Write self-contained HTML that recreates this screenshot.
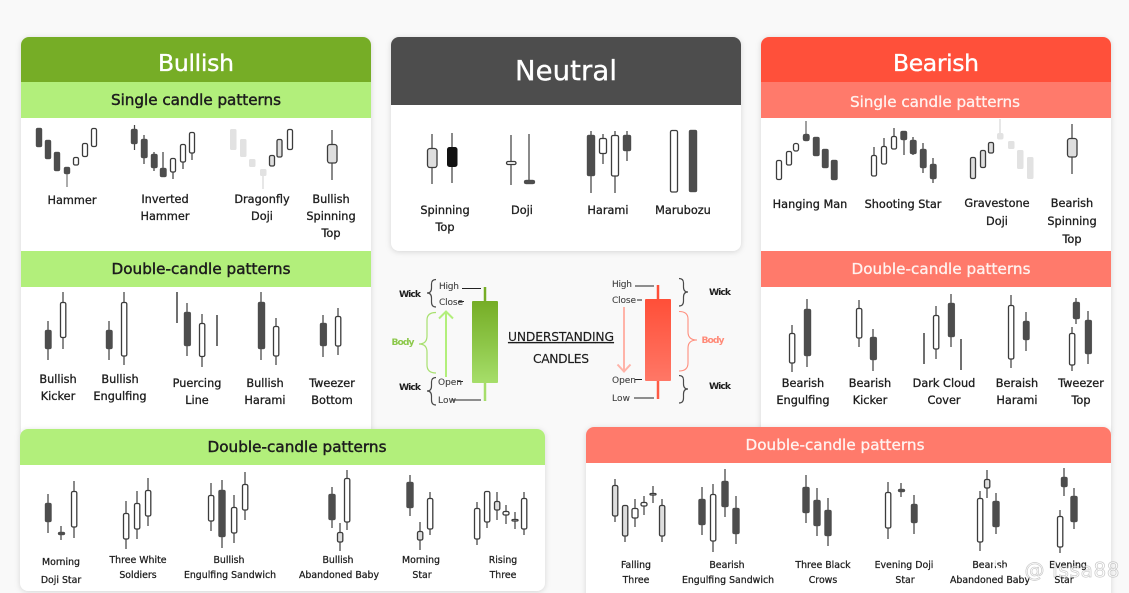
<!DOCTYPE html>
<html><head><meta charset="utf-8"><style>
html,body{margin:0;padding:0;background:#f9f9f9;width:1129px;height:593px;overflow:hidden}
svg{display:block}
text{font-family:"DejaVu Sans","Liberation Sans",sans-serif;fill:#1d1d1d;text-anchor:middle;font-size:11.3px;stroke:#1d1d1d;stroke-width:.3}
.s{font-size:9.4px;stroke-width:.25}
.h{font-size:23.5px;fill:#fff;stroke:#fff;stroke-width:.35}
.n{font-size:27.5px}
.t{font-size:15.2px;stroke-width:.45}
.tw{fill:#fff2ef;stroke:#fff2ef;stroke-width:.3}
.c{font-size:9px;fill:#444;stroke:#444;stroke-width:.12;text-anchor:start}
.b{font-size:9.2px;font-weight:bold;stroke:none}
rect{rx:1.5px}
.card{fill:#fff;rx:0;filter:drop-shadow(0 1px 3px rgba(0,0,0,.14))}
.d{fill:#4d4d4d;stroke:#4d4d4d;stroke-width:.4}
.k{fill:#111}
.w{fill:#fff;stroke:#3c3c3c;stroke-width:1.3}
.g{fill:#dedede;stroke:#3c3c3c;stroke-width:1.3}
.l{fill:#e2e2e2}
.wk{stroke:#444;stroke-width:1.25;fill:none}
.bl{stroke:#111;stroke-width:1.2;fill:none}
.br{fill:none;stroke:#4a4a4a;stroke-width:1.2}
</style></head><body>
<svg width="1129" height="593" viewBox="0 0 1129 593" xmlns="http://www.w3.org/2000/svg">
<defs>
<linearGradient id="gg" x1="0" y1="0" x2="0" y2="1"><stop offset="0" stop-color="#76ad26"/><stop offset=".5" stop-color="#8cc546"/><stop offset="1" stop-color="#a6de6a"/></linearGradient>
<linearGradient id="rg" x1="0" y1="0" x2="0" y2="1"><stop offset="0" stop-color="#ff4f38"/><stop offset="1" stop-color="#ff7766"/></linearGradient>
</defs>

<!-- Bullish -->
<path class="card" d="M21 45a8 8 0 0 1 8-8H363a8 8 0 0 1 8 8V432H21Z" style="fill:#fff"/>
<path d="M21 82V45a8 8 0 0 1 8-8H363a8 8 0 0 1 8 8V82Z" fill="#76ad26"/>
<rect x="21" y="82" width="350" height="36" fill="#b2ef7b" style="rx:0"/>
<rect x="21" y="251" width="350" height="36" fill="#b2ef7b" style="rx:0"/>
<text class="h" x="196" y="71" textLength="76">Bullish</text>
<text class="t" x="196" y="105" textLength="170">Single candle patterns</text>
<text class="t" x="201" y="274" textLength="179">Double-candle patterns</text>

<path class="wk" d="M67 174V187" style="stroke:#888;stroke-width:1.4"/>
<rect class="d" x="36" y="128" width="6" height="19"/><rect class="d" x="45" y="140" width="6" height="19"/><rect class="d" x="54" y="152" width="6" height="19"/><rect class="d" x="64" y="167" width="6" height="7"/>
<rect class="w" x="73.500" y="157.500" width="5" height="7.500"/><rect class="w" x="82.500" y="143.500" width="5" height="13"/><rect class="w" x="91.500" y="128.500" width="5" height="18"/>

<path class="wk" d="M134.500 125V150M144 135V164M154 152V171M163 152V177M173 158V179M183 144V169M192 132V160"/>
<rect class="d" x="131" y="129" width="6.500" height="15"/><rect class="d" x="141" y="139" width="6.500" height="19"/><rect class="d" x="151" y="154" width="6.500" height="14"/><rect class="d" x="160" y="168" width="6.500" height="9"/>
<rect class="w" x="170.500" y="158.500" width="5" height="13.500"/><rect class="w" x="180.500" y="144.500" width="5" height="17.500"/><rect class="w" x="189.500" y="132.500" width="5" height="20.500"/>

<path d="M263 176V189" stroke="#ddd" stroke-width="1.4"/>
<rect class="l" x="230" y="129" width="6.500" height="21"/><rect class="l" x="240" y="139" width="6.500" height="18"/><rect class="l" x="249" y="159" width="6.500" height="8"/><rect class="l" x="260" y="169" width="6.500" height="7"/>
<rect class="g" x="269.500" y="155.500" width="5" height="10.500"/><rect class="g" x="277" y="139.500" width="5" height="17.500"/><rect class="w" x="287.500" y="129.500" width="5" height="20"/>

<path class="wk" d="M332 130V180"/><rect class="g" x="327.500" y="144.500" width="9.500" height="18.500" style="rx:2.500px"/>

<text x="72" y="204">Hammer</text>
<text x="165" y="203">Inverted</text><text x="165" y="220">Hammer</text>
<text x="262" y="203">Dragonfly</text><text x="262" y="220">Doji</text>
<text x="331" y="203">Bullish</text><text x="331" y="220">Spinning</text><text x="331" y="237">Top</text>

<path class="wk" d="M48 321V360M63 292V349M109 321V360M124 292V365M187 303V356M202 314V367M261 292V360M276 318V365M323 315V357M338 308V355"/>
<path class="bl" d="M177 292V323M217 315V346"/>
<rect class="d" x="45" y="330" width="6.500" height="19"/><rect class="w" x="60.500" y="302.500" width="5.300" height="35"/>
<rect class="d" x="106" y="330" width="6.500" height="19"/><rect class="w" x="121.500" y="302.500" width="5.300" height="53.500"/>
<rect class="d" x="184" y="312" width="6.800" height="34"/><rect class="w" x="199.500" y="323.500" width="5.300" height="33"/>
<rect class="d" x="258" y="302" width="7" height="47"/><rect class="w" x="273.500" y="326.500" width="5.300" height="29.500"/>
<rect class="d" x="320" y="323" width="6.800" height="23"/><rect class="w" x="335.500" y="316.500" width="5.300" height="29.500"/>

<text x="58" y="383">Bullish</text><text x="58" y="400">Kicker</text>
<text x="120" y="383">Bullish</text><text x="120" y="400">Engulfing</text>
<text x="197" y="387">Puercing</text><text x="197" y="404">Line</text>
<text x="265" y="387">Bullish</text><text x="265" y="404">Harami</text>
<text x="332" y="387">Tweezer</text><text x="332" y="404">Bottom</text>

<!-- Neutral -->
<path class="card" d="M391 45a8 8 0 0 1 8-8H733a8 8 0 0 1 8 8V243a8 8 0 0 1-8 8H399a8 8 0 0 1-8-8Z" style="fill:#fff"/>
<path d="M391 105V45a8 8 0 0 1 8-8H733a8 8 0 0 1 8 8V105Z" fill="#4d4d4d"/>
<text class="h n" x="566" y="80" textLength="102">Neutral</text>

<path class="wk" d="M432 134V184M452 133V183M511 135V185M529 134V182M591 131V193M603 134V164M615 131V193M627 131V161"/>
<rect class="g" x="427.500" y="148.500" width="9.500" height="19" style="rx:2.500px"/><rect class="k" x="447" y="147" width="10.500" height="20" style="rx:2.500px"/>
<rect class="w" x="506.500" y="161.500" width="9.500" height="3" style="rx:1.500px"/><rect class="d" x="524" y="180" width="11" height="4" style="rx:2px"/>
<rect class="d" x="587" y="135" width="8" height="41"/><rect class="w" x="599.500" y="138.500" width="7" height="15"/><rect class="w" x="611.500" y="135.500" width="7" height="40.500"/><rect class="d" x="623" y="135" width="8" height="16"/>
<rect class="w" x="670.500" y="130.500" width="7" height="61.500"/><rect class="d" x="689" y="130" width="8" height="62"/>
<text x="445" y="214">Spinning</text><text x="445" y="231">Top</text>
<text x="522" y="214">Doji</text><text x="608" y="214">Harami</text><text x="683" y="214">Marubozu</text>

<!-- Understanding candles -->
<path d="M485 287V301" stroke="#76ad26" stroke-width="2.500"/><path d="M485 383V401" stroke="#a6de6a" stroke-width="2.500"/>
<rect x="472" y="301" width="26" height="82" fill="url(#gg)" style="rx:1px"/>
<path d="M658 285V299" stroke="#ff4f38" stroke-width="2.500"/><path d="M658 381V399" stroke="#ff5a44" stroke-width="2.500"/>
<rect x="645" y="299" width="26" height="82" fill="url(#rg)" style="rx:1px"/>
<g stroke="#222" stroke-width="1" fill="none"><path d="M462 288.500H481M458 301.500H464M458 381.500H463M452 400H481M635 286H654M637 300H642M635 379.500H642M634 398H654"/></g>
<text class="c" x="439" y="289" textLength="20">High</text><text class="c" x="439" y="305" textLength="24">Close</text><text class="c" x="438" y="385" textLength="24">Open</text><text class="c" x="438" y="403" textLength="18">Low</text>
<text class="c" x="612" y="287" textLength="20">High</text><text class="c" x="612" y="303" textLength="24">Close</text><text class="c" x="612" y="383" textLength="24">Open</text><text class="c" x="612" y="401" textLength="18">Low</text>
<text class="b" x="410" y="297" textLength="22">Wick</text><text class="b" x="410" y="390" textLength="22">Wick</text>
<text class="b" x="720" y="295" textLength="22">Wick</text><text class="b" x="720" y="389" textLength="22">Wick</text>
<text class="b" x="403" y="345" style="fill:#8cc84b" textLength="23">Body</text><text class="b" x="713" y="343" style="fill:#ff8a78" textLength="23">Body</text>
<path class="br" d="M436 279.500Q431.500 279.500 431.500 284V288Q431.500 293 427 293Q431.500 293 431.500 298V302Q431.500 307 436 307"/>
<path class="br" d="M436 377.500Q431.500 377.500 431.500 382V386Q431.500 391 427 391Q431.500 391 431.500 396V400Q431.500 405 436 405"/>
<path class="br" d="M679 278.500Q683.500 278.500 683.500 283V287Q683.500 292 688 292Q683.500 292 683.500 297V301Q683.500 306 679 306"/>
<path class="br" d="M679 375.500Q683.500 375.500 683.500 380V384Q683.500 389 688 389Q683.500 389 683.500 394V398Q683.500 403 679 403"/>
<path d="M436 312.500Q427 312.500 427 320V336Q427 344 419 344Q427 344 427 352V365Q427 373 436 373" fill="none" stroke="#a8e070" stroke-width="1.200"/>
<path d="M679 311.500Q688 311.500 688 319V332Q688 340 697 340Q688 340 688 348V363Q688 371 679 371" fill="none" stroke="#ff8f7e" stroke-width="1.100"/>
<path d="M446 377V312M439 318.500L446 311.500L453 318.500" fill="none" stroke="#b2ef7b" stroke-width="2"/>
<path d="M624 307V371M617.500 364.500L624 371.500L630.500 364.500" fill="none" stroke="#ffb3a8" stroke-width="2"/>
<text x="561" y="341" style="font-size:12.300px;text-decoration:underline;stroke-width:.15" textLength="106">UNDERSTANDING</text>
<text x="561" y="363" style="font-size:12.300px;stroke-width:.15" textLength="56">CANDLES</text>

<!-- Bearish -->
<path class="card" d="M761 45a8 8 0 0 1 8-8H1103a8 8 0 0 1 8 8V432H761Z" style="fill:#fff"/>
<path d="M761 82V45a8 8 0 0 1 8-8H1103a8 8 0 0 1 8 8V82Z" fill="#ff503a"/>
<rect x="761" y="82" width="350" height="36" fill="#ff7a6b" style="rx:0"/>
<rect x="761" y="251" width="350" height="36" fill="#ff7a6b" style="rx:0"/>
<text class="h" x="936" y="71" textLength="86">Bearish</text>
<text class="t tw" x="935" y="107" textLength="170">Single candle patterns</text>
<text class="t tw" x="941" y="274" textLength="179">Double-candle patterns</text>

<path class="wk" d="M806 121V134" style="stroke:#777;stroke-width:1.400"/>
<rect class="w" x="776.500" y="160.500" width="5" height="19"/><rect class="w" x="786.500" y="151.500" width="5" height="13.500"/><rect class="w" x="793.500" y="143.500" width="5" height="7.500" style="rx:2px"/>
<rect class="d" x="803" y="134" width="6.500" height="7" style="rx:2px"/><rect class="d" x="813" y="137" width="6.500" height="19"/><rect class="d" x="822" y="149" width="6.500" height="19"/><rect class="d" x="831" y="160" width="6.500" height="20"/>

<path class="wk" d="M874 147V176M884 138V164M894 128V149M904 131V155M913 137V155M923 143V173M933 158V183"/>
<rect class="w" x="871.500" y="155.500" width="5" height="20.500"/><rect class="w" x="881.500" y="146.500" width="5" height="17.500"/><rect class="w" x="891.500" y="136.500" width="5" height="12.500"/>
<rect class="d" x="900.500" y="131" width="6.500" height="9"/><rect class="d" x="910" y="140" width="6.500" height="14"/><rect class="d" x="920" y="149" width="6.500" height="19"/><rect class="d" x="930" y="164" width="6.500" height="15"/>

<path d="M1000 119V133" stroke="#ddd" stroke-width="1.400"/>
<rect class="g" x="970.500" y="157.500" width="5" height="21"/><rect class="g" x="980.500" y="150.500" width="5" height="17"/><rect class="g" x="988.500" y="142.500" width="5" height="10.500"/>
<rect class="l" x="997" y="133" width="6.500" height="6.500" style="rx:2px"/><rect class="l" x="1008" y="141" width="6.500" height="8"/><rect class="l" x="1017" y="150" width="6.500" height="19"/><rect class="l" x="1027" y="157" width="6.500" height="22"/>

<path class="wk" d="M1072 124V174"/><rect class="g" x="1067.500" y="138.500" width="9.500" height="18.500" style="rx:2.500px"/>

<text x="810" y="208">Hanging Man</text><text x="903" y="208">Shooting Star</text>
<text x="997" y="207">Gravestone</text><text x="997" y="225">Doji</text>
<text x="1072" y="207">Bearish</text><text x="1072" y="225">Spinning</text><text x="1072" y="243">Top</text>

<path class="wk" d="M792 325V372M807 299V367M859 300V347M873 329V371M936 306V359M951 294V347M1011 295V368M1026 312V351M1072 327V371M1076 298V324M1088 311V364"/>
<path class="bl" d="M924 333V364M961 339V370"/>
<rect class="w" x="789.500" y="333.500" width="5.300" height="29.500"/><rect class="d" x="804" y="309" width="7" height="47"/>
<rect class="w" x="856.500" y="308.500" width="5.300" height="29.500"/><rect class="d" x="870" y="337" width="6.800" height="23"/>
<rect class="w" x="933.500" y="315.500" width="5.300" height="33.500"/><rect class="d" x="948" y="303" width="6.800" height="34"/>
<rect class="w" x="1008.500" y="305.500" width="5.300" height="53.500"/><rect class="d" x="1023" y="321" width="6.500" height="19"/>
<rect class="w" x="1069.500" y="333.500" width="5.300" height="31.500"/><rect class="d" x="1073" y="302" width="6.800" height="17"/><rect class="d" x="1085" y="320" width="6.800" height="34"/>

<text x="803" y="387">Bearish</text><text x="803" y="404">Engulfing</text>
<text x="870" y="387">Bearish</text><text x="870" y="404">Kicker</text>
<text x="944" y="387">Dark Cloud</text><text x="944" y="404">Cover</text>
<text x="1017" y="387">Beraish</text><text x="1017" y="404">Harami</text>
<text x="1081" y="387">Tweezer</text><text x="1081" y="404">Top</text>

<!-- Bottom left -->
<rect class="card" x="20" y="429" width="525" height="162" style="rx:8px;fill:#fff"/>
<path d="M20 465V437a8 8 0 0 1 8-8H537a8 8 0 0 1 8 8V465Z" fill="#b2ef7b"/>
<text class="t" x="297" y="452" textLength="179">Double-candle patterns</text>

<path class="wk" d="M48 494V533M61 526V540M74 481V538M126 501V549M137 491V539M148 478V526M211 483V531M222 480V548M234 495V543M245 472V520M332 487V528M340 523V551M347 470V530M410 475V516M420 522V550M430 492V535M477 502V545M487 491V528M497 492V520M506 505V524M515 512V529M524 492V535"/>
<rect class="d" x="45" y="503" width="6.500" height="19"/><rect class="d" x="58" y="532" width="7" height="3"/><rect class="w" x="71.500" y="491.500" width="5.300" height="35.500"/>
<rect class="w" x="123.500" y="513.500" width="5.300" height="25.500"/><rect class="w" x="134.500" y="503.500" width="5.300" height="25.500"/><rect class="w" x="145.500" y="490.500" width="5.300" height="25.500"/>
<rect class="w" x="208.500" y="495.500" width="5.300" height="25.500"/><rect class="d" x="218.500" y="490" width="7" height="47"/><rect class="w" x="231.500" y="507.500" width="5.300" height="25.500"/><rect class="w" x="242.500" y="484.500" width="5.300" height="25.500"/>
<rect class="d" x="328.500" y="494" width="7" height="26"/><rect class="g" x="337.500" y="532.500" width="5.300" height="9.500"/><rect class="w" x="344.500" y="478.500" width="5.300" height="43.500"/>
<rect class="d" x="406.500" y="482" width="7" height="26"/><rect class="g" x="417.500" y="531.500" width="5.300" height="8.500"/><rect class="w" x="427.500" y="498.500" width="5.300" height="30.500"/>
<rect class="w" x="474.500" y="508.500" width="5.300" height="30.500"/><rect class="w" x="484.500" y="491.500" width="5.300" height="30.500"/><rect class="g" x="494.500" y="501.500" width="5.300" height="8.500"/><rect class="w" x="503" y="511.500" width="6" height="3.500"/><rect class="w" x="512" y="519.500" width="6" height="1.500" style="rx:1px"/><rect class="w" x="521.500" y="498.500" width="5.300" height="30.500"/>

<text class="s" x="61" y="565">Morning</text><text class="s" x="61" y="583">Doji Star</text>
<text class="s" x="138" y="563">Three White</text><text class="s" x="138" y="578">Soldiers</text>
<text class="s" x="229" y="563">Bullish</text><text class="s" x="230" y="578">Engulfing Sandwich</text>
<text class="s" x="338" y="563">Bullish</text><text class="s" x="339" y="578">Abandoned Baby</text>
<text class="s" x="421" y="563">Morning</text><text class="s" x="422" y="578">Star</text>
<text class="s" x="503" y="563">Rising</text><text class="s" x="503" y="578">Three</text>

<!-- Bottom right -->
<rect class="card" x="586" y="427" width="525" height="180" style="rx:8px;fill:#fff"/>
<path d="M586 463V435a8 8 0 0 1 8-8H1103a8 8 0 0 1 8 8V463Z" fill="#ff7a6b"/>
<text class="t tw" x="835" y="450" textLength="179">Double-candle patterns</text>

<path class="wk" d="M615 479V522M625 505V542M635 499V527M644 496V515M653 486V503M662 499V542M702 487V535M713 484V552M725 469V517M736 496V544M806 475V523M817 488V536M828 498V546M888 482V539M901 483V497M914 495V534M980 491V551M987 470V498M996 493V534M1060 510V553M1064 468V496M1074 488V529"/>
<rect class="g" x="612.500" y="485.500" width="5.300" height="30.500"/><rect class="g" x="622.500" y="505.500" width="5.300" height="30.500"/><rect class="w" x="632" y="508.500" width="6" height="9.500"/><rect class="w" x="641" y="502.500" width="6" height="3.500"/><rect class="w" x="650" y="493.500" width="6" height="1.500" style="rx:1px"/><rect class="g" x="659.500" y="505.500" width="5.300" height="30.500"/>
<rect class="d" x="698.500" y="499" width="7" height="26"/><rect class="w" x="710.500" y="494.500" width="5.300" height="46.500"/><rect class="d" x="721.500" y="481" width="7" height="26"/><rect class="d" x="732.500" y="508" width="7" height="26"/>
<rect class="d" x="802.500" y="487" width="7" height="26"/><rect class="d" x="813.500" y="500" width="7" height="26"/><rect class="d" x="824.500" y="510" width="7" height="26"/>
<rect class="w" x="885.500" y="492.500" width="5.300" height="35.500"/><rect class="d" x="898" y="489" width="7" height="3"/><rect class="d" x="911" y="504" width="6.500" height="19"/>
<rect class="w" x="977.500" y="498.500" width="5.300" height="43.500"/><rect class="g" x="984.500" y="479.500" width="5.300" height="8.500"/><rect class="d" x="992.500" y="501" width="7" height="26"/>
<rect class="w" x="1057.500" y="516.500" width="5.300" height="30.500"/><rect class="d" x="1061" y="477" width="6.500" height="10"/><rect class="d" x="1070.500" y="496" width="7" height="26"/>

<text class="s" x="636" y="568">Falling</text><text class="s" x="636" y="583">Three</text>
<text class="s" x="727" y="568">Bearish</text><text class="s" x="728" y="583">Engulfing Sandwich</text>
<text class="s" x="823" y="568">Three Black</text><text class="s" x="823" y="583">Crows</text>
<text class="s" x="904" y="568">Evening Doji</text><text class="s" x="905" y="583">Star</text>
<text class="s" x="990" y="568">Bearish</text><text class="s" x="990" y="583">Abandoned Baby</text>
<text class="s" x="1068" y="568">Evening</text><text class="s" x="1064" y="583">Star</text>

<!-- watermark -->
<path d="M1003 554L1012 563L1003 572L994 563Z" fill="none" stroke="#fff" stroke-width="2.500" opacity=".85"/>
<text x="1072" y="577" style="font-size:20px;fill:rgba(255,255,255,.6);stroke:rgba(120,120,120,.4);stroke-width:.7" textLength="95">@ Issa88</text>
</svg>
</body></html>
